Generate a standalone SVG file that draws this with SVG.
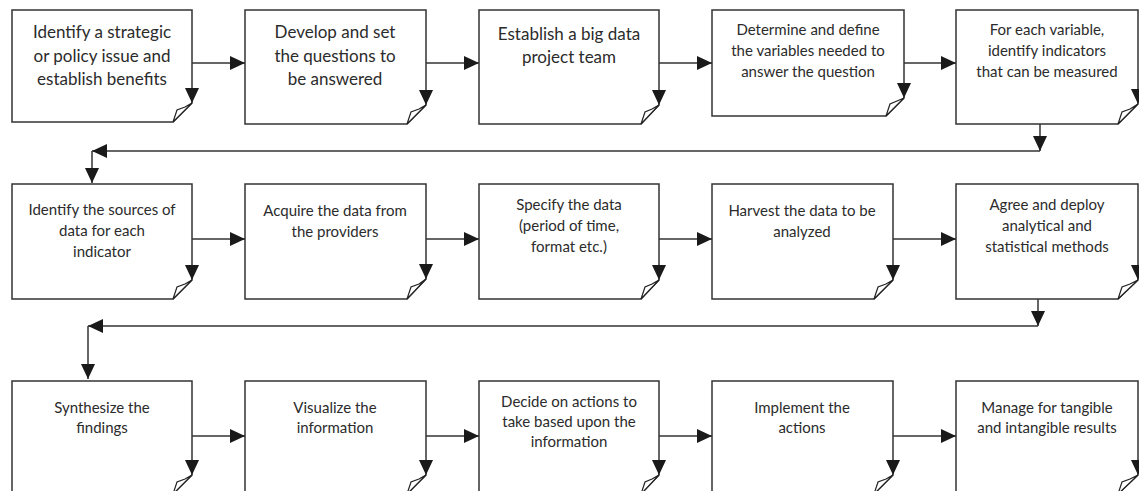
<svg xmlns="http://www.w3.org/2000/svg" width="1139" height="491" viewBox="0 0 1139 491">
<defs>
<style>
.box{fill:#fff;stroke:#333;stroke-width:1.5}
.flap{fill:#fff;stroke:#222;stroke-width:1.2;stroke-linejoin:miter}
.tip{fill:#1a1a1a}
.t{font-family:Lato,"Liberation Sans",sans-serif;font-size:15px;fill:#2b2b2b;text-anchor:middle}
.tl{font-size:17px}
.c{fill:none;stroke:#333;stroke-width:1.5}
</style>
<marker id="ah" viewBox="0 0 15 14" refX="15" refY="7" markerWidth="15" markerHeight="14" markerUnits="userSpaceOnUse" orient="auto">
<path d="M0,0 L15,7 L0,14 Z" fill="#1a1a1a"/>
</marker>
</defs>
<rect width="1139" height="491" fill="#fff"/>

<g id="n1">
<path class="box" d="M12,10 H192 V103 L173,122 H12 Z"/>
<path class="flap" d="M173,122 L177,110 L185,107 L192,103 Z"/>
<path class="tip" d="M185,88 H199 L192,103 Z"/>
<text class="t tl" x="102" y="38">Identify a strategic</text>
<text class="t tl" x="102" y="62">or policy issue and</text>
<text class="t tl" x="102" y="85">establish benefits</text>
</g>
<g id="n2">
<path class="box" d="M245,10 H426 V105 L407,124 H245 Z"/>
<path class="flap" d="M407,124 L411,112 L419,109 L426,105 Z"/>
<path class="tip" d="M419,90 H433 L426,105 Z"/>
<text class="t tl" x="335" y="38">Develop and set</text>
<text class="t tl" x="335" y="62">the questions to</text>
<text class="t tl" x="335" y="85">be answered</text>
</g>
<g id="n3">
<path class="box" d="M479,10 H659 V105 L641,124 H479 Z"/>
<path class="flap" d="M641,124 L645,112 L652,109 L659,105 Z"/>
<path class="tip" d="M652,90 H666 L659,105 Z"/>
<text class="t tl" x="569" y="40">Establish a big data</text>
<text class="t tl" x="569" y="63">project team</text>
</g>
<g id="n4">
<path class="box" d="M712,10 H904 V98 L886,116 H712 Z"/>
<path class="flap" d="M886,116 L890,104 L897,101 L904,98 Z"/>
<path class="tip" d="M897,83 H911 L904,98 Z"/>
<text class="t" x="808" y="35">Determine and define</text>
<text class="t" x="808" y="56">the variables needed to</text>
<text class="t" x="808" y="77">answer the question</text>
</g>
<g id="n5">
<path class="box" d="M956,10 H1138 V104 L1118,124 H956 Z"/>
<path class="flap" d="M1118,124 L1122,112 L1130,109 L1138,104 Z"/>
<path class="tip" d="M1131,89 H1145 L1138,104 Z"/>
<text class="t" x="1047" y="35">For each variable,</text>
<text class="t" x="1047" y="56">identify indicators</text>
<text class="t" x="1047" y="77">that can be measured</text>
</g>

<g id="n6">
<path class="box" d="M12,184 H192 V280 L173,299 H12 Z"/>
<path class="flap" d="M173,299 L177,287 L185,284 L192,280 Z"/>
<path class="tip" d="M185,265 H199 L192,280 Z"/>
<text class="t" x="102" y="215">Identify the sources of</text>
<text class="t" x="102" y="236">data for each</text>
<text class="t" x="102" y="257">indicator</text>
</g>
<g id="n7">
<path class="box" d="M245,184 H426 V279 L407,299 H245 Z"/>
<path class="flap" d="M407,299 L411,287 L419,284 L426,279 Z"/>
<path class="tip" d="M419,264 H433 L426,279 Z"/>
<text class="t" x="335" y="216">Acquire the data from</text>
<text class="t" x="335" y="237">the providers</text>
</g>
<g id="n8">
<path class="box" d="M479,184 H659 V280 L641,299 H479 Z"/>
<path class="flap" d="M641,299 L645,287 L652,284 L659,280 Z"/>
<path class="tip" d="M652,265 H666 L659,280 Z"/>
<text class="t" x="569" y="210">Specify the data</text>
<text class="t" x="569" y="231">(period of time,</text>
<text class="t" x="569" y="252">format etc.)</text>
</g>
<g id="n9">
<path class="box" d="M712,184 H893 V280 L874,299 H712 Z"/>
<path class="flap" d="M874,299 L878,287 L886,284 L893,280 Z"/>
<path class="tip" d="M886,265 H900 L893,280 Z"/>
<text class="t" x="802" y="216">Harvest the data to be</text>
<text class="t" x="802" y="237">analyzed</text>
</g>
<g id="n10">
<path class="box" d="M956,184 H1138 V280 L1118,299 H956 Z"/>
<path class="flap" d="M1118,299 L1122,287 L1130,284 L1138,280 Z"/>
<path class="tip" d="M1131,265 H1145 L1138,280 Z"/>
<text class="t" x="1047" y="210">Agree and deploy</text>
<text class="t" x="1047" y="231">analytical and</text>
<text class="t" x="1047" y="252">statistical methods</text>
</g>

<g id="n11">
<path class="box" d="M12,381 H192 V475 L173,494 H12 Z"/>
<path class="flap" d="M173,494 L177,482 L185,479 L192,475 Z"/>
<path class="tip" d="M185,460 H199 L192,475 Z"/>
<text class="t" x="102" y="413">Synthesize the</text>
<text class="t" x="102" y="433">findings</text>
</g>
<g id="n12">
<path class="box" d="M245,381 H426 V475 L407,494 H245 Z"/>
<path class="flap" d="M407,494 L411,482 L419,479 L426,475 Z"/>
<path class="tip" d="M419,460 H433 L426,475 Z"/>
<text class="t" x="335" y="413">Visualize the</text>
<text class="t" x="335" y="433">information</text>
</g>
<g id="n13">
<path class="box" d="M479,381 H659 V475 L641,494 H479 Z"/>
<path class="flap" d="M641,494 L645,482 L652,479 L659,475 Z"/>
<path class="tip" d="M652,460 H666 L659,475 Z"/>
<text class="t" x="569" y="407">Decide on actions to</text>
<text class="t" x="569" y="427">take based upon the</text>
<text class="t" x="569" y="447">information</text>
</g>
<g id="n14">
<path class="box" d="M712,381 H893 V475 L874,494 H712 Z"/>
<path class="flap" d="M874,494 L878,482 L886,479 L893,475 Z"/>
<path class="tip" d="M886,460 H900 L893,475 Z"/>
<text class="t" x="802" y="413">Implement the</text>
<text class="t" x="802" y="433">actions</text>
</g>
<g id="n15">
<path class="box" d="M956,381 H1138 V475 L1118,494 H956 Z"/>
<path class="flap" d="M1118,494 L1122,482 L1130,479 L1138,475 Z"/>
<path class="tip" d="M1131,460 H1145 L1138,475 Z"/>
<text class="t" x="1047" y="413">Manage for tangible</text>
<text class="t" x="1047" y="433">and intangible results</text>
</g>

<g id="connectors">
<line class="c" x1="192" y1="63" x2="245" y2="63" marker-end="url(#ah)"/>
<line class="c" x1="426" y1="63" x2="479" y2="63" marker-end="url(#ah)"/>
<line class="c" x1="659" y1="63" x2="712" y2="63" marker-end="url(#ah)"/>
<line class="c" x1="904" y1="63" x2="956" y2="63" marker-end="url(#ah)"/>
<line class="c" x1="1040" y1="124" x2="1040" y2="151" marker-end="url(#ah)"/>
<line class="c" x1="1040" y1="151" x2="92" y2="151" marker-end="url(#ah)"/>
<line class="c" x1="92" y1="151" x2="92" y2="183" marker-end="url(#ah)"/>

<line class="c" x1="192" y1="239" x2="245" y2="239" marker-end="url(#ah)"/>
<line class="c" x1="426" y1="239" x2="479" y2="239" marker-end="url(#ah)"/>
<line class="c" x1="659" y1="239" x2="712" y2="239" marker-end="url(#ah)"/>
<line class="c" x1="893" y1="239" x2="956" y2="239" marker-end="url(#ah)"/>
<line class="c" x1="1038" y1="299" x2="1038" y2="326" marker-end="url(#ah)"/>
<line class="c" x1="1038" y1="326" x2="88" y2="326" marker-end="url(#ah)"/>
<line class="c" x1="88" y1="326" x2="88" y2="379" marker-end="url(#ah)"/>

<line class="c" x1="192" y1="436" x2="245" y2="436" marker-end="url(#ah)"/>
<line class="c" x1="426" y1="436" x2="479" y2="436" marker-end="url(#ah)"/>
<line class="c" x1="659" y1="436" x2="712" y2="436" marker-end="url(#ah)"/>
<line class="c" x1="893" y1="436" x2="956" y2="436" marker-end="url(#ah)"/>
</g>
</svg>
